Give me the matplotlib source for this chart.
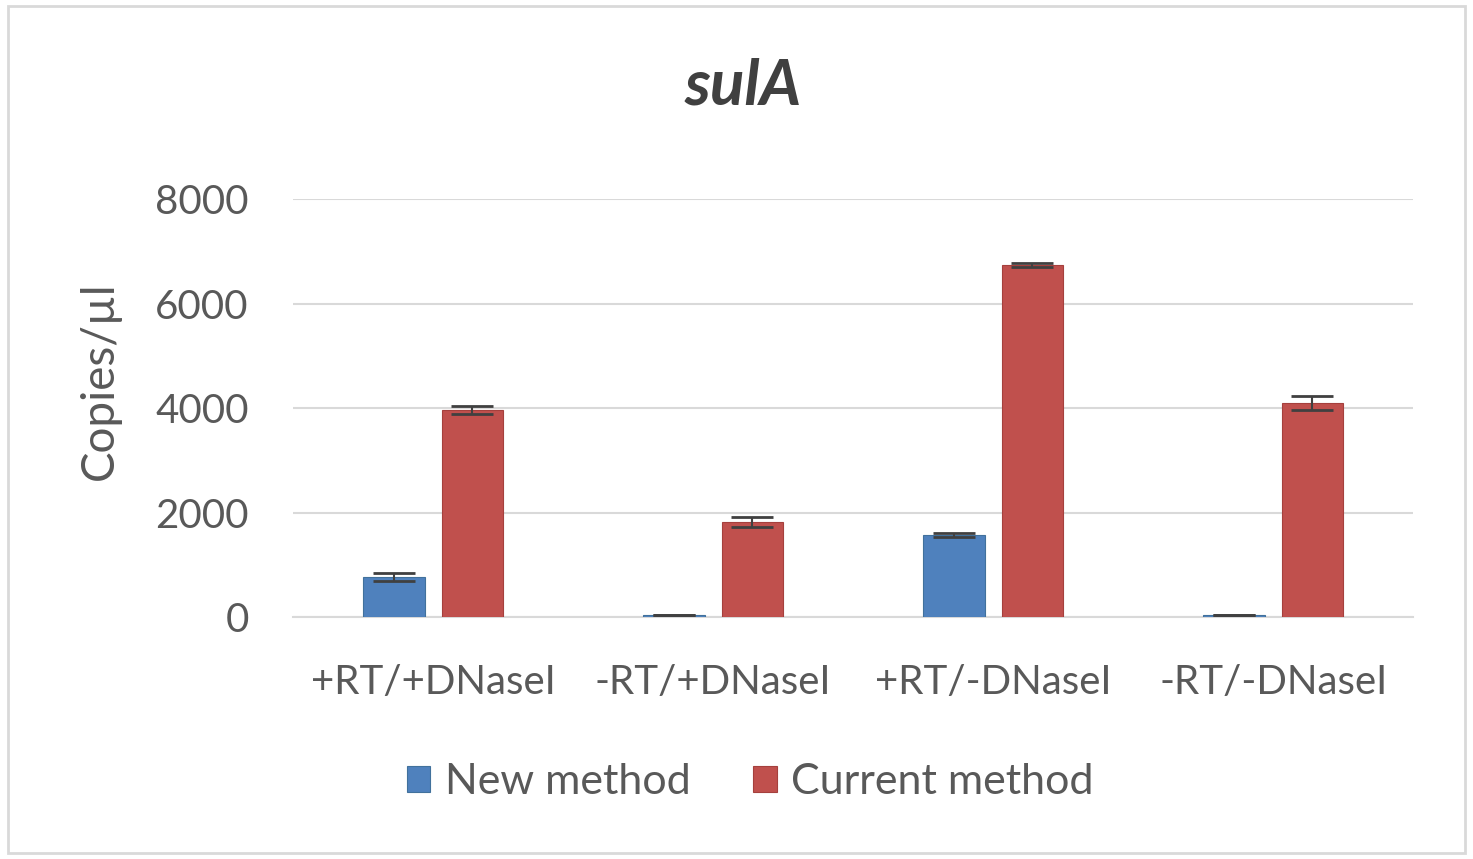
import matplotlib.pyplot as plt
import numpy as np
from matplotlib.patches import Rectangle

plt.rcParams['font.family'] = ['Lato', 'DejaVu Sans']

categories = ["+RT/+DNaseI", "-RT/+DNaseI", "+RT/-DNaseI", "-RT/-DNaseI"]
new_method = [770, 40, 1570, 40]
new_err = [80, 0, 40, 0]
current_method = [3960, 1820, 6740, 4100]
current_err = [80, 90, 40, 130]

blue = "#4F81BD"
red = "#C0504D"
txt = "#595959"

fig = plt.figure(figsize=(14.73, 8.59), dpi=100)
ax = fig.add_axes([0.199, 0.2817, 0.7604, 0.4866])

x = np.arange(len(categories))
w = 0.22
off = 0.14
ebar = dict(ecolor="#404040", elinewidth=1.5, capthick=2)
ax.bar(x - off, new_method, w, color=blue, edgecolor="#41719C", linewidth=0.8,
       yerr=new_err, capsize=15, error_kw=ebar, label="New method", zorder=3)
ax.bar(x + off, current_method, w, color=red, edgecolor="#A5403D", linewidth=0.8,
       yerr=current_err, capsize=15, error_kw=ebar, label="Current method", zorder=3)

ax.set_xlim(-0.5, 3.5)
ax.set_ylim(0, 8000)
ax.set_yticks([0, 2000, 4000, 6000, 8000])
ax.yaxis.grid(True, color="#D9D9D9", linewidth=1.5, zorder=0)
ax.set_axisbelow(True)
for s in ["top", "right", "left"]:
    ax.spines[s].set_visible(False)
ax.spines["bottom"].set_color("#D9D9D9")
ax.spines["bottom"].set_linewidth(1.5)
ax.tick_params(axis="both", length=0, labelsize=29, colors=txt)
ax.tick_params(axis="x", pad=34)
ax.tick_params(axis="y", pad=32)
ax.set_xticks(x)
ax.set_xticklabels(categories)

# y label sits a bit above the plot centre, like the original
fig.text(100 / 1473, 1 - 381 / 859, "Copies/µl", fontsize=33, color=txt, rotation=90,
         ha="center", va="center")

fig.text(743 / 1473, 1 - 86 / 859, "sulA", fontsize=46, fontweight="bold", fontstyle="italic",
         color="#404040", ha="center", va="center")

fig.legend(loc="center", bbox_to_anchor=(750 / 1473, 1 - 782 / 859), ncol=2, frameon=False,
           fontsize=31, labelcolor=txt, handlelength=0.55, handleheight=0.55, columnspacing=1.45,
           handletextpad=0.33)

fig.patches.append(Rectangle((8 / 1473, 6 / 859), 1457 / 1473, 847 / 859, transform=fig.transFigure,
                             fill=False, edgecolor="#D9D9D9", linewidth=2))

fig.savefig("out.png", dpi=100)
